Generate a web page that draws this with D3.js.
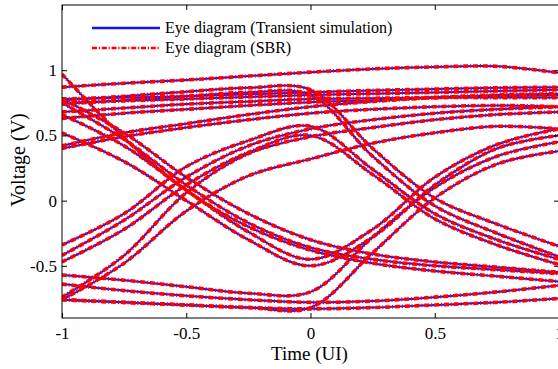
<!DOCTYPE html>
<html>
<head>
<meta charset="utf-8">
<script src="https://cdn.jsdelivr.net/npm/d3@7"></script>
<style>
  html, body { margin: 0; padding: 0; background: #fff; }
  svg { display: block; font-family: "Liberation Serif", "Times New Roman", serif; }
</style>
</head>
<body>
<svg id="chart" width="558" height="369"></svg>
<script>
// Sample instants across the two-UI window
const timeUI = [-1, -0.75, -0.5, -0.25, 0, 0.25, 0.5, 0.75, 1];

// Waveform segments folded into the eye (voltage at each sample instant)
const eyeTraces = [
  // long runs of ones
  [0.87, 0.90, 0.925, 0.955, 0.985, 1.01, 1.025, 1.03, 0.98],
  [0.78, 0.79, 0.80, 0.815, 0.83, 0.845, 0.855, 0.865, 0.87],
  [0.75, 0.765, 0.78, 0.795, 0.81, 0.82, 0.83, 0.84, 0.85],
  [0.68, 0.71, 0.74, 0.76, 0.78, 0.785, 0.79, 0.79, 0.79],
  [0.63, 0.67, 0.70, 0.73, 0.755, 0.77, 0.79, 0.80, 0.81],
  [0.42, 0.52, 0.59, 0.66, 0.72, 0.76, 0.79, 0.81, 0.82],
  [0.40, 0.49, 0.56, 0.62, 0.67, 0.70, 0.72, 0.73, 0.72],
  // high, then falling after the centre
  [0.77, 0.80, 0.835, 0.865, 0.85, 0.40, 0.02, -0.18, -0.35],
  [0.74, 0.77, 0.80, 0.83, 0.81, 0.34, -0.04, -0.25, -0.43],
  // falling into the eye
  [0.97, 0.48, 0.08, -0.20, -0.38, -0.48, -0.54, -0.58, -0.62],
  [0.78, 0.52, 0.18, -0.10, -0.30, -0.41, -0.47, -0.51, -0.55],
  [0.75, 0.47, 0.12, -0.17, -0.36, -0.45, -0.50, -0.53, -0.56],
  [0.66, 0.42, 0.08, -0.24, -0.45, -0.22, 0.18, 0.43, 0.55],
  [0.52, 0.30, 0.00, -0.30, -0.50, -0.28, 0.12, 0.40, 0.50],
  // rising into the eye
  [-0.34, -0.10, 0.26, 0.46, 0.57, 0.24, -0.10, -0.30, -0.45],
  [-0.42, -0.15, 0.18, 0.42, 0.55, 0.62, 0.67, 0.70, 0.72],
  [-0.47, -0.22, 0.12, 0.37, 0.50, 0.20, -0.14, -0.34, -0.49],
  [-0.76, -0.48, -0.08, 0.19, 0.32, 0.44, 0.52, 0.57, 0.55],
  [-0.74, -0.42, 0.06, 0.36, 0.49, 0.56, 0.62, 0.66, 0.68],
  // long runs of zeros
  [-0.76, -0.78, -0.80, -0.82, -0.83, -0.82, -0.80, -0.78, -0.75],
  [-0.76, -0.78, -0.80, -0.82, -0.82, -0.40, 0.02, 0.28, 0.38],
  [-0.57, -0.61, -0.66, -0.71, -0.70, -0.28, 0.10, 0.34, 0.45],
  [-0.64, -0.69, -0.73, -0.76, -0.78, -0.77, -0.74, -0.70, -0.65]
];

const xTicks = [-1, -0.5, 0, 0.5, 1];
const yTicks = [-0.5, 0, 0.5, 1];
const seriesNames = ["Eye diagram (Transient simulation)", "Eye diagram (SBR)"];
const seriesColors = ["#1010ff", "#ff0000"];

const svg = d3.select("#chart");
const plot = { left: 62, right: 559, top: 5, bottom: 318 };

const x = d3.scaleLinear().domain([-1, 1]).range([plot.left, plot.right]);
const y = d3.scaleLinear().domain([-0.9, 1.5]).range([plot.bottom, plot.top]);

svg.append("defs").append("clipPath").attr("id", "plotClip")
  .append("rect")
  .attr("x", plot.left).attr("y", plot.top)
  .attr("width", plot.right - plot.left).attr("height", plot.bottom - plot.top);

const line = d3.line()
  .x((d, i) => x(timeUI[i]))
  .y(d => y(d))
  .curve(d3.curveCatmullRom.alpha(0.5));

const traces = svg.append("g").attr("clip-path", "url(#plotClip)");

// transient simulation: solid blue underneath
traces.append("g").selectAll("path").data(eyeTraces).join("path")
  .attr("d", line)
  .attr("fill", "none")
  .attr("stroke", seriesColors[0])
  .attr("stroke-width", 2);

// SBR: red dash-dot drawn on top
const dashDot = "5,1.8,1.2,1.8";
traces.append("g").selectAll("path").data(eyeTraces).join("path")
  .attr("d", line)
  .attr("fill", "none")
  .attr("stroke", seriesColors[1])
  .attr("stroke-width", 3.6)
  .attr("stroke-dasharray", dashDot);

// axes with inward ticks on all four sides
const fmt = d => String(d);
const tickFont = 17;

const gx = svg.append("g").attr("transform", `translate(0,${plot.bottom})`)
  .call(d3.axisBottom(x).tickValues(xTicks).tickFormat(fmt).tickSizeInner(-5).tickSizeOuter(0).tickPadding(9));
const gy = svg.append("g").attr("transform", `translate(${plot.left},0)`)
  .call(d3.axisLeft(y).tickValues(yTicks).tickFormat(fmt).tickSizeInner(-5).tickSizeOuter(0).tickPadding(5));
const gt = svg.append("g").attr("transform", `translate(0,${plot.top})`)
  .call(d3.axisTop(x).tickValues(xTicks).tickFormat("").tickSizeInner(-5).tickSizeOuter(0));
const gr = svg.append("g").attr("transform", `translate(${plot.right},0)`)
  .call(d3.axisRight(y).tickValues(yTicks).tickFormat("").tickSizeInner(-5).tickSizeOuter(0));

[gx, gy, gt, gr].forEach(g => {
  g.select(".domain").remove();
  g.selectAll("line").attr("stroke", "#000").attr("stroke-width", 1);
  g.selectAll("text")
    .attr("fill", "#000")
    .style("font-family", '"Liberation Serif", "Times New Roman", serif')
    .style("font-size", tickFont + "px");
});

svg.append("rect")
  .attr("x", plot.left).attr("y", plot.top)
  .attr("width", plot.right - plot.left).attr("height", plot.bottom - plot.top)
  .attr("fill", "none").attr("stroke", "#000").attr("stroke-width", 1);

// axis titles
svg.append("text")
  .attr("x", (plot.left + plot.right) / 2 - 1).attr("y", 360)
  .attr("text-anchor", "middle")
  .style("font-size", "19px")
  .text("Time (UI)");

svg.append("text")
  .attr("transform", "translate(25,160) rotate(-90)")
  .attr("text-anchor", "middle")
  .style("font-size", "20px")
  .text("Voltage (V)");

// legend
const legend = svg.append("g");
const legendRows = [28, 48];
legend.append("line")
  .attr("x1", 92).attr("x2", 160).attr("y1", legendRows[0]).attr("y2", legendRows[0])
  .attr("stroke", seriesColors[0]).attr("stroke-width", 2.6);
legend.append("line")
  .attr("x1", 92).attr("x2", 160).attr("y1", legendRows[1]).attr("y2", legendRows[1])
  .attr("stroke", seriesColors[1]).attr("stroke-width", 2.6)
  .attr("stroke-dasharray", dashDot);
legend.selectAll("text").data(seriesNames).join("text")
  .attr("x", 165)
  .attr("y", (d, i) => legendRows[i] + 5)
  .style("font-size", "16px")
  .text(d => d);
</script>
</body>
</html>
